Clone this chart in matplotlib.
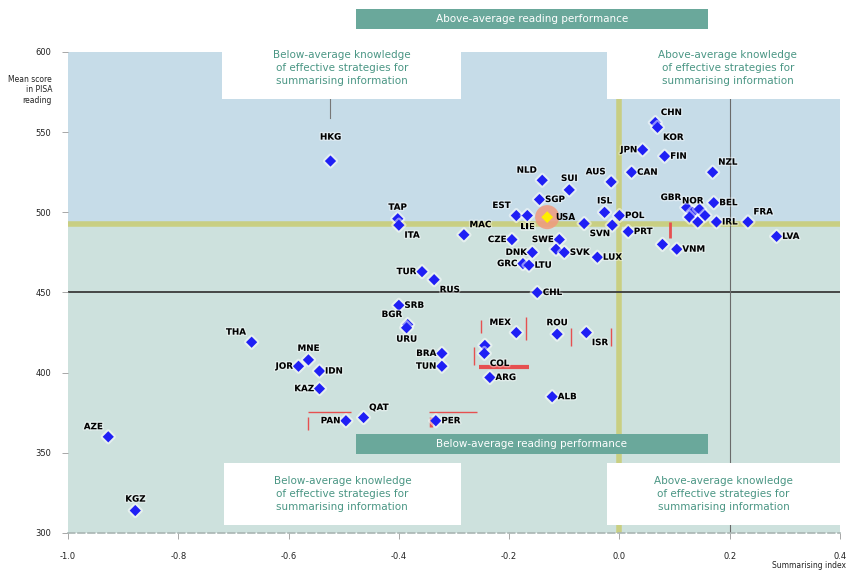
import numpy as np
import matplotlib
matplotlib.use("Agg")
import matplotlib.pyplot as plt
import matplotlib.patheffects as pe
from matplotlib.patches import Rectangle

# reading score vs. summarising index, by country
codes = ["CHN", "KOR", "JPN", "FIN", "NZL", "CAN", "AUS", "SUI", "NLD", "SGP",
         "EST", "LIE", "MAC", "CZE", "SWE", "ESP", "SVK", "DNK", "GRC", "LTU",
         "TUR", "RUS", "CHL", "SRB", "BGR", "URU", "THA", "MNE", "JOR", "IDN",
         "KAZ", "PAN", "QAT", "PER", "BRA", "TUN", "MEX", "TTO", "COL", "ARG",
         "ALB", "ROU", "ISR", "KGZ", "AZE", "HKG", "TAP", "ITA", "ISL", "POL",
         "HUN", "SVN", "PRT", "GBR", "NOR", "AUT", "DEU", "HRV", "BEL", "IRL",
         "FRA", "LVA", "ARE", "DUB", "LUX", "VNM"]
index = [0.065, 0.069, 0.042, 0.082, 0.169, 0.022, -0.015, -0.091, -0.140, -0.145,
         -0.187, -0.167, -0.282, -0.195, -0.109, -0.115, -0.100, -0.158, -0.175, -0.164,
         -0.358, -0.336, -0.149, -0.400, -0.384, -0.386, -0.667, -0.564, -0.582, -0.544,
         -0.544, -0.496, -0.464, -0.333, -0.322, -0.322, -0.187, -0.244, -0.245, -0.235,
         -0.122, -0.113, -0.060, -0.878, -0.927, -0.524, -0.402, -0.400, -0.027, 0.000,
         -0.013, -0.064, 0.016, 0.122, 0.133, 0.145, 0.127, 0.155, 0.171, 0.176,
         0.233, 0.285, 0.142, 0.078, -0.040, 0.104]
score = [556, 553, 539, 535, 525, 525, 519, 514, 520, 508,
         498, 498, 486, 483, 483, 477, 475, 475, 468, 467,
         463, 458, 450, 442, 430, 428, 419, 408, 404, 401,
         390, 370, 372, 370, 412, 404, 425, 417, 412, 397,
         385, 424, 425, 314, 360, 532, 496, 492, 500, 498,
         492, 493, 488, 503, 500, 502, 497, 498, 506, 494,
         494, 485, 494, 480, 472, 477]
# where each code is written next to its marker ("" = no label)
label_at = ["ur", "dr", "l", "r", "ur", "r", "ul", "u", "ul", "r",
            "ul", "d", "ur", "l", "l", "", "r", "l", "l", "r",
            "l", "dr", "r", "r", "ul", "d", "ul", "u", "l", "r",
            "l", "l", "ur", "r", "l", "l", "ul", "", "dr", "r",
            "r", "u", "dr", "u", "ul", "uu", "u", "dr", "u", "r",
            "", "dr", "r", "ul", "u", "", "", "", "r", "r",
            "ur", "r", "", "", "r", "r"]

highlight = ("USA", -0.131, 497)
oecd_score = 493
oecd_index = 0.0

# small red markers flagging non-significant differences
flag_x = [(-0.255, -0.164), (-0.264, -0.264), (-0.251, -0.251), (-0.169, -0.169),
          (-0.087, -0.087), (-0.015, -0.015), (-0.564, -0.487), (-0.564, -0.564),
          (-0.345, -0.258), (-0.342, -0.342), (0.091, 0.091)]
flag_y = [(403.6, 403.6), (416, 405), (433, 425), (434.5, 420.5),
          (428, 416.5), (428, 416.5), (375.5, 375.5), (372.4, 364.2),
          (375.5, 375.5), (372.4, 366.1), (494, 484)]
flag_w = [3, 1, 1, 1, 1, 1, 1, 1, 1, 2.5, 2]

xticks = [-1.0, -0.8, -0.6, -0.4, -0.2, 0.0, 0.2, 0.4]
yticks = [300, 350, 400, 450, 500, 550, 600]

teal = "#6aa89b"
blue_bg = "#c6dce8"
green_bg = "#cde1dd"

fig = plt.figure(figsize=(8.48, 5.74), dpi=100)
ax = fig.add_axes([68 / 848, 41 / 574, 772 / 848, 481 / 574])
ax.set_xlim(-1.0, 0.4)
ax.set_ylim(300, 600)

ax.axhspan(oecd_score, 600, color=blue_bg, zorder=0, lw=0)
ax.axhspan(300, oecd_score, color=green_bg, zorder=0, lw=0)

ax.axhline(oecd_score, color="#c9cc72", lw=4, alpha=0.85, zorder=1)
ax.axvline(oecd_index, color="#c9cc72", lw=4, alpha=0.85, zorder=1)
ax.axhline(450, color="#3a3a3a", lw=1.3, zorder=1)
ax.axvline(0.2, color="#6a6a6a", lw=0.8, zorder=1)

# white text boxes in the four corners
box_txt_lo = "Below-average knowledge\nof effective strategies for\nsummarising information"
box_txt_hi = "Above-average knowledge\nof effective strategies for\nsummarising information"
for (x0, x1, y0, y1, txt) in [(-0.72, -0.287, 570.7, 609.4, box_txt_lo),
                              (-0.022, 0.415, 570.7, 609.4, box_txt_hi),
                              (-0.718, -0.287, 305.0, 343.7, box_txt_lo),
                              (-0.022, 0.4, 305.0, 343.7, box_txt_hi)]:
    ax.add_patch(Rectangle((x0, y0), x1 - x0, y1 - y0, facecolor="white",
                           edgecolor="none", zorder=4, clip_on=False))
    ax.text((x0 + x1) / 2, (y0 + y1) / 2, txt, ha="center", va="center",
            color="#4a9684", fontsize=7.5, linespacing=1.35, zorder=5)

# banners
for (y0, txt) in [(614.3, "Above-average reading performance"),
                  (349.3, "Below-average reading performance")]:
    ax.add_patch(Rectangle((-0.478, y0), 0.638, 12.4, facecolor=teal,
                           edgecolor="none", zorder=4, clip_on=False))
    ax.text(-0.159, y0 + 6.2, txt, ha="center", va="center", color="white",
            fontsize=7.5, zorder=5)

# leader from top-left box to HKG
ax.plot([-0.524, -0.524], [570.7, 559], color="#777777", lw=0.8, zorder=3)

for (fx, fy, w) in zip(flag_x, flag_y, flag_w):
    ax.plot(fx, fy, color="#e65050", lw=w, zorder=3, solid_capstyle="butt")

glow = [pe.withStroke(linewidth=3, foreground="white", alpha=0.5)]
ax.scatter(index, score, marker="D", s=32, color="#1f1ff5", zorder=6,
           edgecolors="none", path_effects=glow)

offs = {"r": (4, 0, "left", "center"), "l": (-4, 0, "right", "center"),
        "u": (0, 5, "center", "bottom"), "d": (0, -5, "center", "top"),
        "ur": (4, 4, "left", "bottom"), "ul": (-4, 4, "right", "bottom"),
        "dr": (4, -4, "left", "top"), "dl": (-4, -4, "right", "top"),
        "uu": (0, 14, "center", "bottom")}
for c, x, y, p in zip(codes, index, score, label_at):
    if not p:
        continue
    dx, dy, ha, va = offs[p]
    ax.annotate(c, (x, y), xytext=(dx, dy), textcoords="offset points",
                ha=ha, va=va, fontsize=6.3, fontweight="bold", color="black",
                zorder=7, path_effects=[pe.withStroke(linewidth=2, foreground="white", alpha=0.4)])

# highlighted country
hname, hx, hy = highlight
ax.scatter([hx], [hy], s=300, color="#f09a7e", alpha=0.85, zorder=6, edgecolors="none")
ax.scatter([hx], [hy], marker="D", s=36, color="#ffee00", zorder=7, edgecolors="none")
ax.annotate(hname, (hx, hy), xytext=(6, 0), textcoords="offset points",
            ha="left", va="center", fontsize=6.3, fontweight="bold", zorder=7)

for s in ["top", "right", "left"]:
    ax.spines[s].set_visible(False)
ax.spines["bottom"].set_linestyle((0, (4, 2)))
ax.spines["bottom"].set_color("#a9b5b3")
ax.spines["bottom"].set_linewidth(1.2)

ax.set_xticks(xticks)
ax.set_xticklabels([f"{v:.1f}" for v in xticks])
ax.set_yticks(yticks)
ax.tick_params(axis="both", labelsize=6, colors="#999999", labelcolor="#222222",
               length=4, width=0.6)
ax.tick_params(axis="x", pad=10)
ax.tick_params(axis="y", pad=8)

fig.text(52 / 848, 1 - 90 / 574, "Mean score\nin PISA\nreading", ha="right",
         va="center", fontsize=5.5, color="#222222", linespacing=1.2)
fig.text(846 / 848, 1 - 566 / 574, "Summarising index", ha="right", va="center",
         fontsize=5.5, color="#222222")

fig.savefig("out.png", dpi=100)
